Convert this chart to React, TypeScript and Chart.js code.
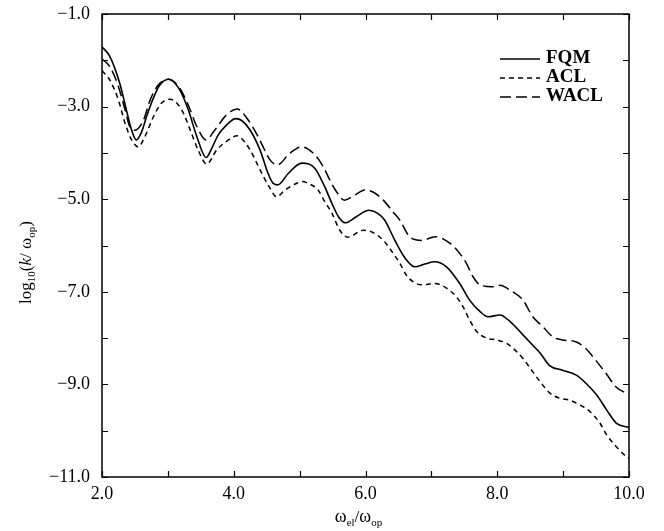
import { useEffect, useRef } from 'react';
import { Chart, registerables } from 'chart.js';

Chart.register(...registerables);

// ---- data ----
const FQM_X = [2.0, 2.12, 2.27, 2.37, 2.45, 2.52, 2.60, 2.68, 2.77, 2.87, 3.01, 3.18, 3.31, 3.44, 3.58, 3.66, 3.76, 3.89, 4.03, 4.12, 4.25, 4.40, 4.52, 4.60, 4.67, 4.83, 5.03, 5.23, 5.38, 5.49, 5.59, 5.69, 5.86, 6.05, 6.18, 6.29, 6.45, 6.60, 6.75, 6.90, 7.05, 7.23, 7.43, 7.58, 7.74, 7.86, 8.04, 8.20, 8.39, 8.55, 8.65, 8.80, 8.98, 9.20, 9.35, 9.51, 9.66, 9.81, 10.0];
const FQM_Y = [-1.71, -1.92, -2.50, -3.07, -3.51, -3.72, -3.55, -3.20, -2.85, -2.55, -2.41, -2.64, -3.07, -3.65, -4.10, -3.92, -3.62, -3.40, -3.26, -3.30, -3.51, -3.94, -4.44, -4.66, -4.69, -4.44, -4.22, -4.33, -4.73, -5.09, -5.38, -5.51, -5.38, -5.24, -5.30, -5.45, -5.90, -6.27, -6.46, -6.40, -6.35, -6.46, -6.82, -7.18, -7.43, -7.54, -7.50, -7.65, -7.93, -8.17, -8.32, -8.60, -8.69, -8.80, -8.98, -9.23, -9.55, -9.84, -9.93];

const ACL_X = [2.0, 2.12, 2.25, 2.35, 2.45, 2.55, 2.65, 2.78, 2.90, 3.03, 3.21, 3.34, 3.46, 3.59, 3.74, 3.92, 4.05, 4.14, 4.25, 4.35, 4.45, 4.55, 4.65, 4.78, 4.95, 5.04, 5.13, 5.28, 5.38, 5.49, 5.61, 5.73, 5.97, 6.14, 6.29, 6.42, 6.52, 6.62, 6.72, 6.85, 7.05, 7.23, 7.38, 7.48, 7.58, 7.69, 7.84, 7.99, 8.14, 8.27, 8.39, 8.54, 8.65, 8.80, 8.95, 9.10, 9.25, 9.41, 9.56, 9.66, 9.81, 9.96, 10.0];
const ACL_Y = [-2.22, -2.43, -2.86, -3.36, -3.72, -3.87, -3.65, -3.22, -2.93, -2.84, -3.07, -3.51, -3.94, -4.24, -3.94, -3.72, -3.63, -3.72, -3.94, -4.22, -4.51, -4.76, -4.95, -4.80, -4.66, -4.62, -4.66, -4.80, -5.05, -5.30, -5.67, -5.82, -5.67, -5.74, -5.92, -6.17, -6.38, -6.64, -6.78, -6.85, -6.82, -6.92, -7.11, -7.32, -7.61, -7.86, -8.00, -8.04, -8.11, -8.26, -8.44, -8.73, -8.94, -9.19, -9.30, -9.34, -9.44, -9.59, -9.84, -10.09, -10.35, -10.56, -10.60];

const WACL_X = [2.0, 2.12, 2.25, 2.35, 2.42, 2.50, 2.63, 2.73, 2.85, 3.01, 3.18, 3.31, 3.44, 3.58, 3.71, 3.89, 4.05, 4.20, 4.37, 4.47, 4.55, 4.66, 4.85, 5.03, 5.21, 5.36, 5.46, 5.56, 5.68, 5.84, 5.99, 6.12, 6.27, 6.42, 6.52, 6.67, 6.85, 7.06, 7.28, 7.43, 7.53, 7.63, 7.74, 7.92, 8.04, 8.20, 8.39, 8.54, 8.69, 8.84, 8.99, 9.19, 9.34, 9.49, 9.65, 9.80, 9.96, 10.0];
const WACL_Y = [-1.97, -2.14, -2.57, -3.07, -3.43, -3.51, -3.29, -2.86, -2.54, -2.41, -2.60, -2.97, -3.43, -3.72, -3.51, -3.18, -3.05, -3.25, -3.65, -3.94, -4.15, -4.26, -4.01, -3.87, -4.01, -4.30, -4.59, -4.84, -5.02, -4.91, -4.80, -4.85, -5.02, -5.28, -5.45, -5.81, -5.89, -5.81, -5.95, -6.17, -6.38, -6.67, -6.85, -6.89, -6.86, -6.97, -7.18, -7.54, -7.75, -7.97, -8.04, -8.08, -8.22, -8.47, -8.76, -9.05, -9.19, -9.21];

const SERIES_LABELS = ['FQM', 'ACL', 'WACL'];
const X_MIN = 2, X_MAX = 10, X_LABEL_STEP = 2, X_MINOR_STEP = 1;
const Y_MIN = -11, Y_MAX = -1, Y_LABEL_STEP = 2, Y_MINOR_STEP = 1;

const SERIF = '"Liberation Serif", "Times New Roman", Times, serif';

function fmt(v: number) {
  return (v < 0 ? '\u2212' : '') + Math.abs(v).toFixed(1);
}

type Piece = { t: string; size: number; dy: number; italic?: boolean };

function drawPieces(ctx: CanvasRenderingContext2D, pieces: Piece[]) {
  let total = 0;
  const widths = pieces.map((p) => {
    ctx.font = `${p.italic ? 'italic ' : ''}${p.size}px ${SERIF}`;
    const w = ctx.measureText(p.t).width;
    total += w;
    return w;
  });
  let x = -total / 2;
  pieces.forEach((p, i) => {
    ctx.font = `${p.italic ? 'italic ' : ''}${p.size}px ${SERIF}`;
    ctx.fillText(p.t, x, p.dy);
    x += widths[i];
  });
}

export default function App() {
  const ref = useRef<HTMLCanvasElement>(null);

  useEffect(() => {
    let chart: Chart | null = null;
    let cancelled = false;
    const pts = (xs: number[], ys: number[]) => xs.map((x, i) => ({ x, y: ys[i] }));

    const framePlugin = {
      id: 'frame',
      afterDraw(c: any) {
        const { ctx, chartArea: a, scales } = c;
        const xs = scales.x, ys = scales.y;
        ctx.save();
        ctx.strokeStyle = '#000';
        ctx.lineWidth = 1.5;
        ctx.setLineDash([]);
        ctx.strokeRect(a.left, a.top, a.right - a.left, a.bottom - a.top);
        ctx.lineWidth = 1.2;
        const tl = 6;
        ctx.beginPath();
        for (let v = X_MIN; v <= X_MAX + 1e-9; v += X_MINOR_STEP) {
          const px = Math.round(xs.getPixelForValue(v)) + 0.5;
          ctx.moveTo(px, a.bottom); ctx.lineTo(px, a.bottom - tl);
          ctx.moveTo(px, a.top); ctx.lineTo(px, a.top + tl);
        }
        for (let v = Y_MIN; v <= Y_MAX + 1e-9; v += Y_MINOR_STEP) {
          const py = Math.round(ys.getPixelForValue(v)) + 0.5;
          ctx.moveTo(a.left, py); ctx.lineTo(a.left + tl, py);
          ctx.moveTo(a.right, py); ctx.lineTo(a.right - tl, py);
        }
        ctx.stroke();

        // legend
        const lx0 = a.right - 129, lx1 = a.right - 89, tx = a.right - 83;
        c.data.datasets.forEach((ds: any, i: number) => {
          const ly = a.top + 45 + i * 19;
          ctx.beginPath();
          ctx.lineWidth = 1.5;
          ctx.setLineDash(ds.borderDash || []);
          ctx.moveTo(lx0, ly); ctx.lineTo(lx1, ly);
          ctx.stroke();
          ctx.setLineDash([]);
          ctx.fillStyle = '#000';
          ctx.font = `bold 19px ${SERIF}`;
          ctx.textBaseline = 'middle';
          ctx.textAlign = 'left';
          ctx.fillText(ds.label, tx, ly - 1);
        });

        // axis titles
        ctx.fillStyle = '#000';
        ctx.textBaseline = 'alphabetic';
        ctx.textAlign = 'left';
        ctx.save();
        ctx.translate((a.left + a.right) / 2 - 7, 522);
        drawPieces(ctx, [
          { t: '\u03C9', size: 18, dy: 0 },
          { t: 'el', size: 11, dy: 4 },
          { t: '/', size: 17, dy: 0 },
          { t: '\u03C9', size: 18, dy: 0 },
          { t: 'op', size: 11, dy: 4 },
        ]);
        ctx.restore();
        ctx.save();
        ctx.translate(31, (a.top + a.bottom) / 2 + 17);
        ctx.rotate(-Math.PI / 2);
        drawPieces(ctx, [
          { t: 'log', size: 17, dy: 0 },
          { t: '10', size: 11, dy: 4 },
          { t: '(', size: 17, dy: 0 },
          { t: 'k', size: 17, dy: 0, italic: true },
          { t: '/', size: 17, dy: 0 },
          { t: ' \u03C9', size: 17, dy: 0 },
          { t: 'op', size: 11, dy: 4 },
          { t: ')', size: 17, dy: 0 },
        ]);
        ctx.restore();
        ctx.restore();
      },
    };

    const build = () => {
      if (cancelled || !ref.current) return;
      chart = new Chart(ref.current, {
        type: 'line',
        data: {
          datasets: [
            { label: SERIES_LABELS[0], data: pts(FQM_X, FQM_Y), borderColor: '#000', borderWidth: 1.6, borderDash: [] },
            { label: SERIES_LABELS[1], data: pts(ACL_X, ACL_Y), borderColor: '#000', borderWidth: 1.5, borderDash: [5, 4] },
            { label: SERIES_LABELS[2], data: pts(WACL_X, WACL_Y), borderColor: '#000', borderWidth: 1.5, borderDash: [11, 5] },
          ] as any,
        },
        options: {
          animation: false,
          responsive: true,
          maintainAspectRatio: false,
          devicePixelRatio: 1,
          elements: { point: { radius: 0 }, line: { cubicInterpolationMode: 'monotone', fill: false } },
          layout: { padding: { top: 14, right: 35, left: 0, bottom: 0 } },
          plugins: { legend: { display: false }, tooltip: { enabled: false } },
          scales: {
            x: {
              type: 'linear',
              min: X_MIN,
              max: X_MAX,
              grid: { display: false, drawTicks: false },
              border: { display: false },
              ticks: {
                stepSize: X_LABEL_STEP,
                padding: 6,
                color: '#000',
                font: { family: SERIF, size: 18 },
                callback: (v: any) => fmt(Number(v)),
              },
              afterFit: (s: any) => { s.height = 54; s.paddingLeft = 0; s.paddingRight = 0; },
            },
            y: {
              type: 'linear',
              min: Y_MIN,
              max: Y_MAX,
              grid: { display: false, drawTicks: false },
              border: { display: false },
              ticks: {
                stepSize: Y_LABEL_STEP,
                padding: 12,
                color: '#000',
                font: { family: SERIF, size: 18 },
                callback: (v: any) => fmt(Number(v)),
              },
              afterFit: (s: any) => { s.width = 102; s.paddingTop = 0; s.paddingBottom = 0; },
            },
          },
        } as any,
        plugins: [framePlugin],
      });
    };

    const fonts: any = (document as any).fonts;
    if (fonts && fonts.load) {
      Promise.all([
        fonts.load('18px "Liberation Serif"'),
        fonts.load('bold 19px "Liberation Serif"'),
        fonts.load('italic 17px "Liberation Serif"'),
      ]).then(build, build);
    } else {
      build();
    }
    return () => {
      cancelled = true;
      if (chart) chart.destroy();
    };
  }, []);

  return (
    <div style={{ position: 'fixed', left: 0, top: 0, width: 664, height: 531, background: '#fff' }}>
      <canvas ref={ref} />
    </div>
  );
}
